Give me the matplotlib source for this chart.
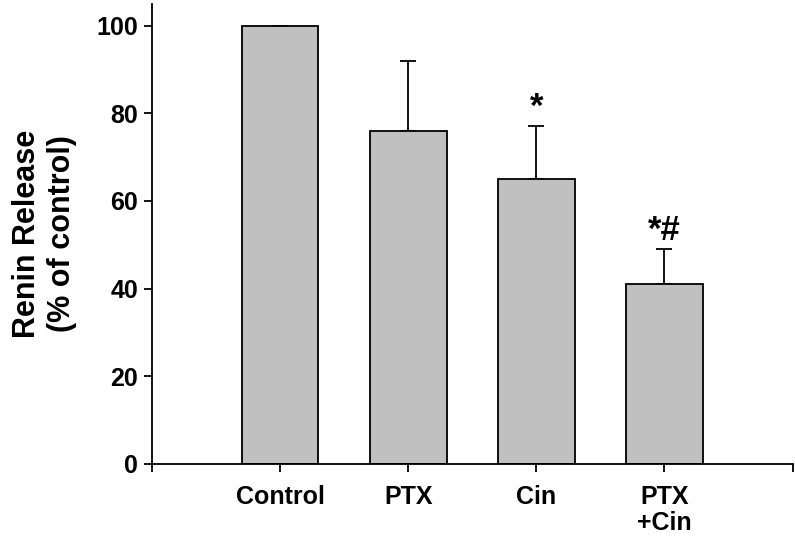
import matplotlib
matplotlib.use("Agg")
import matplotlib.pyplot as plt

plt.rcParams['font.family'] = ['Liberation Sans', 'DejaVu Sans']
plt.rcParams['font.weight'] = 'bold'

# data
groups = ["Control", "PTX", "Cin", "PTX\n+Cin"]
renin = [100, 76, 65, 41]
sem = [0, 16, 12, 8]
marks = ["", "", "*", "*#"]

BAR_GREY = "#c0c0c0"

fig = plt.figure(figsize=(7.95, 5.4), dpi=100)
ax = fig.add_axes([0.191, 0.141, 0.806, 0.852])

pos = list(range(1, len(groups) + 1))
ax.bar(pos, renin, width=0.6, color=BAR_GREY, edgecolor="black", linewidth=1.3, zorder=2)
ax.errorbar(pos, renin, yerr=[[0] * len(sem), sem], fmt="none", ecolor="black",
            elinewidth=1.3, capsize=6, capthick=1.3, zorder=1)

for x, top, m in zip(pos, [r + s for r, s in zip(renin, sem)], marks):
    if m:
        ax.text(x, top + 0.5, m, ha="center", va="bottom", fontsize=25, fontweight="bold")

ax.set_xlim(0, 5)
ax.set_ylim(0, 105)
ax.set_yticks(range(0, 101, 20))
ax.set_xticks(pos)
ax.set_xticklabels(groups, fontsize=18, fontweight="bold", linespacing=1.1)
ax.set_xticks([0, 5], minor=True)
ax.tick_params(axis="y", labelsize=18, length=6, width=1.3, pad=4)
ax.tick_params(axis="x", which="both", length=6, width=1.3, pad=9)
for lab in ax.get_yticklabels():
    lab.set_fontweight("bold")

ax.set_ylabel("Renin Release\n(% of control)", fontsize=22, fontweight="bold", labelpad=14)

for side in ["top", "right"]:
    ax.spines[side].set_visible(False)
for side in ["left", "bottom"]:
    ax.spines[side].set_linewidth(1.3)

fig.savefig("out.png", dpi=100)
